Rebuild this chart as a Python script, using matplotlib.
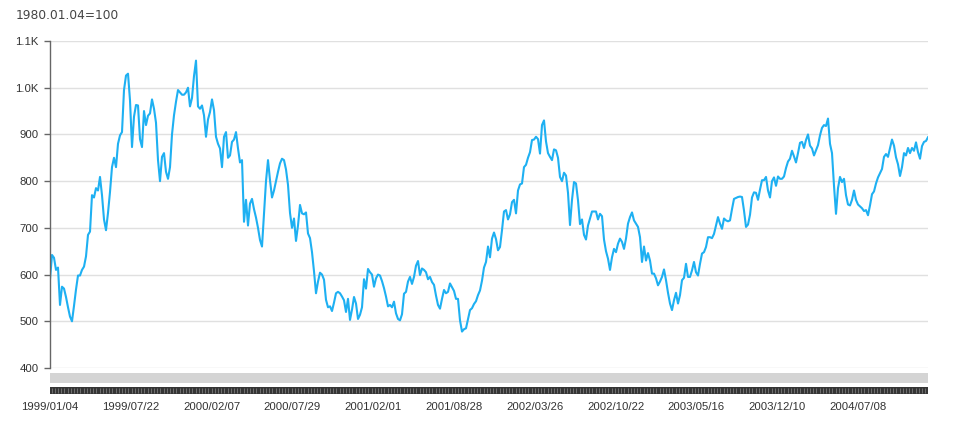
# plot_index_1999_2004

import numpy as np
import matplotlib
matplotlib.use('Agg')
import matplotlib.pyplot as plt
from matplotlib import rcParams

rcParams['font.family'] = ['Liberation Sans', 'DejaVu Sans']
rcParams['font.size'] = 8.2
rcParams['text.color'] = '#333333'

# index level, one value per ~2px of the original plot
values = [
    590, 642, 636, 610, 615, 535, 574, 570, 552, 530,
    510, 500, 533, 568, 598, 598, 610, 617, 639, 685,
    692, 770, 765, 785, 780, 809, 770, 718, 695, 732,
    777, 830, 850, 830, 880, 898, 905, 995, 1026, 1030,
    973, 873, 938, 963, 962, 890, 873, 950, 920, 940,
    945, 975, 955, 925, 845, 800, 852, 860, 820, 805,
    830, 900, 941, 970, 995, 990, 985, 985, 990, 1000,
    960, 978, 1025, 1058, 960, 955, 962, 941, 895, 932,
    948, 975, 952, 895, 880, 870, 830, 895,
    905, 850, 855, 884, 889, 905, 870, 840, 845, 713,
    760, 705, 752, 762, 740, 722, 700, 674, 660, 731,
    800, 845, 802, 765, 780, 800, 820, 838, 848, 845,
    825, 792, 732, 700, 720, 672, 705, 749, 731, 729,
    733, 688, 678, 648, 607, 560, 585, 604, 600, 589,
    546, 530, 532, 522, 540, 560, 563, 560, 553, 545,
    520, 548, 503, 525, 552, 538, 505, 514, 530, 590,
    570, 612, 605, 600, 574, 592, 600, 598, 586, 571,
    553, 532, 535, 530, 542, 517, 505,
    502, 515, 559, 563, 585, 595, 580, 595, 619, 629,
    599, 613, 610, 605, 590, 595, 584, 578, 555, 535,
    527, 548, 567, 560, 563, 581, 573, 565, 548, 548,
    502, 478, 483, 485, 505, 524, 528, 537, 543, 556,
    566, 587, 615, 627, 660, 637, 677, 690, 676, 652,
    659, 695, 735, 738, 718, 729, 755, 760, 731, 780,
    793, 795, 830, 835, 850, 862, 888, 889, 895, 890,
    859, 920, 930, 885, 860, 852, 845, 868, 866, 850,
    809, 800, 818, 812, 775, 706, 760, 798,
    795, 759, 708, 718, 685, 675, 705, 720, 735, 735,
    735, 718, 730, 725, 675, 650, 634, 610, 637, 655,
    648, 666, 677, 670, 655, 677, 709, 723, 733, 716,
    709, 702, 680, 627, 660, 630, 646, 630, 602, 602,
    592, 577, 585, 595, 611, 588, 561, 538, 524, 545,
    561, 538, 556, 588, 593, 623, 595, 595, 609, 627,
    605, 598, 623, 645, 648, 659, 680, 680, 678, 687,
    705, 723, 709, 698, 720, 716, 714, 716, 740, 762,
    764, 766, 767, 766, 737, 702, 707,
    728, 765, 776, 775, 760, 782, 802, 802, 809, 780,
    765, 800, 808, 790, 810, 805, 805, 810, 828, 842,
    848, 865, 853, 840, 860, 882, 884, 871, 888, 900,
    876, 870, 855, 866, 877, 898, 914, 920, 918, 934,
    880, 860, 790, 730, 785, 809, 798, 805, 770, 750,
    748, 760, 780, 760, 750, 746, 742, 736, 738, 727,
    748, 772, 778, 795, 808, 817, 826, 852, 858, 852,
    870, 889, 876, 851, 836, 811, 830, 860, 855, 871,
    860, 871, 865, 883, 862, 848, 875, 884, 886, 894,
]

date_labels = ['1999/01/04', '1999/07/22', '2000/02/07', '2000/07/29',
               '2001/02/01', '2001/08/28', '2002/03/26', '2002/10/22',
               '2003/05/16', '2003/12/10', '2004/07/08']

y_ticks = [400, 500, 600, 700, 800, 900, 1000, 1100]
y_tick_labels = ['400', '500', '600', '700', '800', '900', '1.0K', '1.1K']

W, H = 968, 429
fig = plt.figure(figsize=(W / 100, H / 100), dpi=100)

# main plot area (pixel box 50..928 x 41..368)
ax = fig.add_axes([50 / W, (H - 368) / H, 878 / W, 327 / H])
n = len(values)
x = np.arange(n)
ax.plot(x, values, color='#1eb0f2', lw=1.5, solid_joinstyle='round')
ax.set_xlim(0, n - 1)
ax.set_ylim(400, 1100)
ax.set_yticks(y_ticks)
ax.set_yticklabels(y_tick_labels)
ax.set_xticks([])
ax.grid(axis='y', color='#e0e0e0', lw=1)
ax.set_axisbelow(True)
for side in ['top', 'right', 'bottom']:
    ax.spines[side].set_visible(False)
ax.spines['left'].set_color('#666666')
ax.spines['left'].set_linewidth(1)
ax.tick_params(axis='y', length=4, width=1, color='#666666', pad=4,
               labelcolor='#333333', labelsize=8.2)

# light gray band under the plot
band = fig.add_axes([50 / W, (H - 382.7) / H, 878 / W, 9.4 / H])
band.set_facecolor('#d4d4d4')
band.set_xticks([])
band.set_yticks([])
for s in band.spines.values():
    s.set_visible(False)

# dark striped band with the date labels
strip = fig.add_axes([50 / W, (H - 394) / H, 878 / W, 6.7 / H])
strip.set_facecolor('#353535')
strip.set_xlim(0, n - 1)
strip.set_ylim(0, 1)
strip.vlines(np.arange(0.8, n - 1, 1.6), 0.1, 0.9, color='#7a7a7a', lw=0.6)
label_step = (n - 1) * 80.8 / 878
strip.set_xticks([i * label_step for i in range(len(date_labels))])
strip.set_xticklabels(date_labels)
strip.set_yticks([])
strip.tick_params(axis='x', length=0, pad=6, labelcolor='#333333', labelsize=8.2)
for s in strip.spines.values():
    s.set_visible(False)

fig.text(16 / W, 1 - 15.5 / H, '1980.01.04=100', fontsize=8.8, va='center',
         ha='left', color='#444444', family='DejaVu Sans')

fig.savefig('out.png', dpi=100)
